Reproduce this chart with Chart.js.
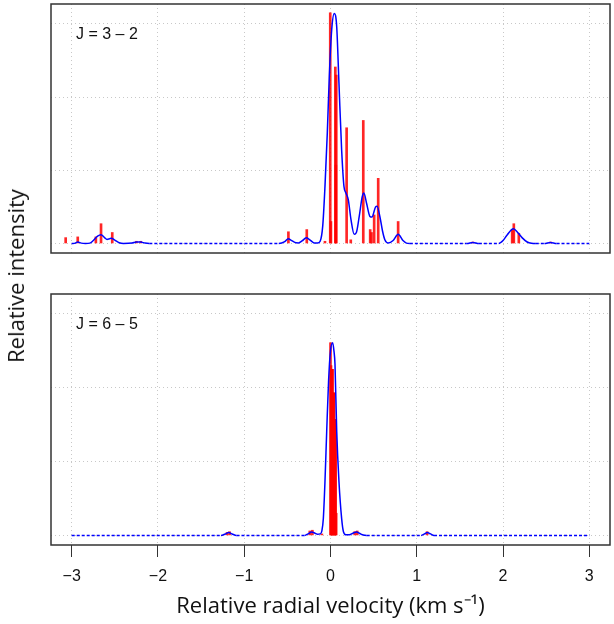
<!DOCTYPE html>
<html>
<head>
<meta charset="utf-8">
<script src="https://cdn.jsdelivr.net/npm/chart.js@4.4.1/dist/chart.umd.min.js"></script>
<style>
    body { margin: 0; background: #fff; }
    #wrap { position: relative; width: 614px; height: 624px; }
    #topChart { position: absolute; left: 0; top: 0; }
    #bottomChart { position: absolute; left: 0; top: 270px; }
    #yTitle {
        position: absolute; left: 15px; top: 276px;
        transform: translate(-50%, -50%) rotate(-90deg);
        font-family: "Open Sans", sans-serif; font-size: 22px; color: #111;
        white-space: nowrap;
    }
</style>
</head>
<body>
<div id="wrap">
    <canvas id="topChart" width="614" height="270"></canvas>
    <canvas id="bottomChart" width="614" height="354"></canvas>
    <div id="yTitle">Relative intensity</div>
</div>
<script>
// x axis
const xTicks = [-3, -2, -1, 0, 1, 2, 3];
const xTickLabels = ['−3', '−2', '−1', '0', '1', '2', '3'];
const yGrid = [0, 1, 2, 3];

// J = 3-2 : convolved spectrum
const curve32X = [-3.00, -2.96, -2.93, -2.89, -2.84, -2.79, -2.75, -2.70, -2.66, -2.62, -2.59, -2.56, -2.54, -2.50, -2.45, -2.40,
    -2.30, -2.25, -2.20, -2.15, -2.10, -0.60, -0.53, -0.49, -0.45, -0.40, -0.37, -0.33, -0.28, -0.24, -0.19, -0.15,
    -0.12, -0.09, -0.064, -0.037, -0.014, 0.014, 0.044, 0.072, 0.098, 0.129, 0.156, 0.179, 0.206, 0.237, 0.275, 0.30,
    0.333, 0.368, 0.387, 0.418, 0.457, 0.48, 0.523, 0.54, 0.572, 0.603, 0.63, 0.67, 0.726, 0.784, 0.84, 0.88, 0.92,
    1.58, 1.65, 1.72, 1.95, 2.00, 2.05, 2.12, 2.17, 2.22, 2.28, 2.33, 2.38, 2.48, 2.55, 2.62, 3.00];
const curve32Y = [0, 0.005, 0.02, 0.005, 0, 0.005, 0.04, 0.10, 0.12, 0.08, 0.055, 0.065, 0.07, 0.045, 0.01, 0,
    0.005, 0.02, 0.02, 0.005, 0, 0, 0.025, 0.065, 0.04, 0.01, 0.008, 0.035, 0.077, 0.05, 0.008, 0.005,
    0.03, 0.24, 0.78, 1.51, 2.28, 2.92, 3.14, 2.96, 2.19, 1.28, 0.78, 0.69, 0.60, 0.33, 0.125, 0.15,
    0.37, 0.64, 0.69, 0.55, 0.37, 0.36, 0.50, 0.51, 0.37, 0.17, 0.05, 0.005, 0.04, 0.125, 0.04, 0.005, 0,
    0, 0.015, 0, 0, 0.04, 0.12, 0.20, 0.15, 0.08, 0.02, 0.003, 0, 0, 0.015, 0, 0];

// J = 3-2 : hyperfine components
const sticks32X = [-3.07, -2.93, -2.72, -2.66, -2.53, -2.25, -2.20, -0.488, -0.275, -0.064, -0.003, 0.005,
    0.056, 0.062, 0.067, 0.187, 0.235, 0.38, 0.46, 0.475, 0.506, 0.553, 0.784, 1.65, 2.106, 2.125, 2.183, 2.55];
const sticks32Y = [0.08, 0.09, 0.09, 0.27, 0.15, 0.03, 0.03, 0.16, 0.19, 0.03, 3.15, 0.30,
    2.41, 1.07, 2.30, 1.58, 0.05, 1.68, 0.19, 0.15, 0.39, 0.89, 0.30, 0.02, 0.19, 0.27, 0.14, 0.02];

// J = 6-5 : convolved spectrum
const curve65X = [-3.00, -1.27, -1.22, -1.18, -1.14, -1.09, -0.30, -0.26, -0.22, -0.18, -0.15, -0.12, -0.10, -0.083,
    -0.064, -0.044, -0.022, 0.000, 0.025, 0.040, 0.052, 0.072, 0.098, 0.129, 0.15, 0.18, 0.22, 0.26, 0.30, 0.34,
    0.38, 0.42, 1.05, 1.09, 1.12, 1.16, 1.20, 3.00];
const curve65Y = [0, 0, 0.02, 0.04, 0.02, 0, 0, 0.02, 0.045, 0.03, 0.015, 0.02, 0.06, 0.23,
    0.73, 1.41, 2.10, 2.50, 2.61, 2.50, 2.32, 1.41, 0.73, 0.23, 0.05, 0.008, 0.01, 0.03, 0.045, 0.025,
    0.005, 0, 0, 0.02, 0.04, 0.02, 0, 0];

// J = 6-5 : hyperfine components
const sticks65X = [-1.20, -1.17, -0.24, -0.21, -0.10, 0.000, 0.006, 0.012, 0.018, 0.024, 0.030, 0.036, 0.042,
    0.048, 0.054, 0.060, 0.066, 0.28, 0.31, 1.12];
const sticks65Y = [0.04, 0.05, 0.06, 0.07, 0.02, 2.61, 2.30, 2.25, 2.25, 2.25, 1.93, 1.93, 1.93,
    1.57, 1.57, 1.57, 0.30, 0.05, 0.06, 0.05];

function toPoints(xs, ys) {
    return xs.map((x, i) => ({ x: x, y: ys[i] }));
}

const boxPlugin = {
    id: 'box',
    afterDraw(chart, args, opts) {
        const { ctx, chartArea } = chart;
        ctx.save();
        ctx.strokeStyle = '#333';
        ctx.lineWidth = 1.5;
        ctx.strokeRect(chartArea.left, chartArea.top, chartArea.right - chartArea.left, chartArea.bottom - chartArea.top);
        ctx.fillStyle = '#111';
        ctx.font = '16px "Liberation Sans", Arial, sans-serif';
        ctx.textBaseline = 'middle';
        ctx.fillText(opts.label, chartArea.left + 25, chartArea.top + 31);
        ctx.restore();
    }
};

function renderPanel(canvasId, label, curveX, curveY, sticksX, sticksY, showAxis) {
    const ctx = document.getElementById(canvasId).getContext('2d');

    return new Chart(ctx, {
        data: {
            datasets: [{
                type: 'line',
                data: toPoints(curveX, curveY),
                borderColor: '#0000ff',
                borderWidth: 1.5,
                pointRadius: 0,
                cubicInterpolationMode: 'monotone',
                order: 0,
                segment: {
                    borderDash: c => (c.p0.parsed.y === 0 && c.p1.parsed.y === 0) ? [3, 2] : undefined
                }
            }, {
                type: 'bar',
                data: toPoints(sticksX, sticksY),
                backgroundColor: 'rgba(255, 0, 0, 0.85)',
                barThickness: 2,
                grouped: false,
                order: 1
            }]
        },
        options: {
            responsive: false,
            animation: false,
            layout: {
                padding: showAxis ? { left: 51, right: 4, top: 24, bottom: 0 } : { left: 51, right: 4, top: 4, bottom: 17 }
            },
            plugins: {
                legend: { display: false },
                tooltip: { enabled: false },
                box: { label: label }
            },
            scales: {
                x: {
                    type: 'linear',
                    min: -3.24,
                    max: 3.24,
                    offset: false,
                    afterBuildTicks: s => { s.ticks = xTicks.map(v => ({ value: v })); },
                    afterFit: s => { s.height = showAxis ? 79 : 0; },
                    border: { display: false, dash: [1, 3] },
                    grid: {
                        offset: false,
                        color: '#c8c8c8',
                        drawTicks: showAxis,
                        tickLength: 12,
                        tickColor: '#333',
                        tickWidth: 1,
                        tickBorderDash: []
                    },
                    ticks: {
                        display: showAxis,
                        padding: 10,
                        color: '#111',
                        font: { family: '"Liberation Sans", Arial, sans-serif', size: 16 },
                        callback: (v) => xTickLabels[xTicks.indexOf(v)]
                    },
                    title: {
                        display: showAxis,
                        text: 'Relative radial velocity (km s⁻¹)',
                        color: '#111',
                        font: { family: '"Open Sans", sans-serif', size: 22 },
                        padding: { top: 0, bottom: 4 }
                    }
                },
                y: {
                    min: -0.13,
                    max: 3.27,
                    afterBuildTicks: s => { s.ticks = yGrid.map(v => ({ value: v })); },
                    afterFit: s => { s.width = 0; },
                    border: { display: false, dash: [1, 3] },
                    grid: { color: '#c8c8c8', drawTicks: false },
                    ticks: { display: false }
                }
            }
        },
        plugins: [boxPlugin]
    });
}

renderPanel('topChart', 'J = 3 – 2', curve32X, curve32Y, sticks32X, sticks32Y, false);
renderPanel('bottomChart', 'J = 6 – 5', curve65X, curve65Y, sticks65X, sticks65Y, true);
</script>
</body>
</html>
